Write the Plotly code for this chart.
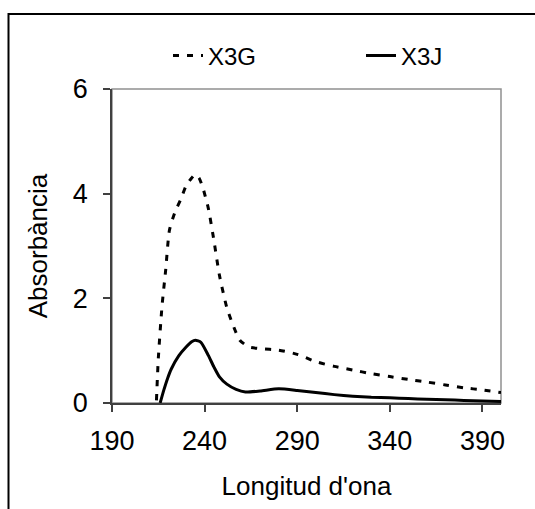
import plotly.graph_objects as go

# ---- data ----
wl_x3g = [214, 215, 217, 219, 221, 224, 227, 230, 233, 235, 237, 239, 242, 245, 248,
          252, 255, 259, 264, 270, 280, 290, 300, 310, 320, 330, 340, 350, 360, 370,
          380, 390, 400]
abs_x3g = [0.05, 0.85, 1.85, 2.55, 3.3, 3.65, 3.88, 4.15, 4.3, 4.37, 4.3, 4.12, 3.72,
           3.11, 2.44, 1.82, 1.52, 1.2, 1.07, 1.04, 1.01, 0.93, 0.79, 0.70, 0.63, 0.56,
           0.505, 0.45, 0.40, 0.345, 0.29, 0.25, 0.20]

wl_x3j = [216, 218, 220, 222, 226, 230, 233, 235, 238, 242, 245, 248, 252, 257, 262,
          270, 280, 290, 300, 310, 320, 330, 340, 350, 360, 370, 380, 390, 400]
abs_x3j = [0.0, 0.25, 0.47, 0.65, 0.90, 1.07, 1.17, 1.20, 1.16, 0.91, 0.69, 0.50, 0.36,
           0.26, 0.21, 0.23, 0.27, 0.24, 0.20, 0.16, 0.13, 0.11, 0.10, 0.085, 0.07, 0.06,
           0.05, 0.04, 0.03]

x_ticks = [190, 240, 290, 340, 390]
y_ticks = [0, 2, 4, 6]
series_names = ["X3G", "X3J"]
x_title = "Longitud d'ona"
y_title = "Absorbància"

# ---- layout geometry ----
W, H = 535, 509
ML, MR, MT, MB = 112, 34, 89, 106
PW, PH = W - ML - MR, H - MT - MB

def px_x(p):
    return (p - ML) / PW

def px_y(p):
    return (H - MB - p) / PH

FONT = "Liberation Sans, Arial, sans-serif"

fig = go.Figure()
fig.add_trace(go.Scatter(
    x=wl_x3g, y=abs_x3g, name=series_names[0], mode="lines",
    line=dict(color="black", width=3, dash="6px,8px", shape="spline", smoothing=0.6),
    legendwidth=148,
))
fig.add_trace(go.Scatter(
    x=wl_x3j, y=abs_x3j, name=series_names[1], mode="lines",
    line=dict(color="black", width=3, shape="spline", smoothing=0.6),
    legendwidth=50,
))

fig.update_layout(
    width=W, height=H,
    margin=dict(l=ML, r=MR, t=MT, b=MB, autoexpand=False),
    paper_bgcolor="white", plot_bgcolor="white",
    font=dict(family=FONT, color="black", size=26),
    showlegend=True,
    legend=dict(
        orientation="h", x=px_x(168), xanchor="left", y=px_y(56), yanchor="middle",
        font=dict(family=FONT, size=24, color="black"),
        entrywidthmode="pixels",
        bgcolor="rgba(0,0,0,0)", itemclick=False,
    ),
    xaxis=dict(
        range=[190, 400], tickvals=x_ticks, ticks="outside", ticklen=7,
        tickcolor="#404040", tickwidth=1.5, automargin=False,
        showline=True, linecolor="#404040", linewidth=1.5, showgrid=False,
        zeroline=False, tickfont=dict(size=27), ticklabelstandoff=6,
        title=dict(text=x_title, font=dict(size=26), standoff=22),
    ),
    yaxis=dict(
        range=[0, 6], tickvals=y_ticks, ticks="outside", ticklen=7,
        tickcolor="#404040", tickwidth=1.5, automargin=False,
        showline=True, linecolor="#404040", linewidth=1.5, showgrid=False,
        zeroline=False, tickfont=dict(size=27), ticklabelstandoff=10,
        title=dict(text=y_title, font=dict(size=26), standoff=18),
    ),
    shapes=[
        # plot-area frame (top/right in gray)
        dict(type="rect", xref="paper", yref="paper", x0=0, x1=1, y0=0, y1=1,
             line=dict(color="#909090", width=1.5), layer="below"),
        # outer chart border
        dict(type="rect", xref="paper", yref="paper",
             x0=px_x(8.5), x1=px_x(545), y0=px_y(520), y1=px_y(14),
             line=dict(color="black", width=2), layer="below"),
    ],
)

fig.write_html("out.html", config={"displayModeBar": False},
               post_script="document.body.style.margin='0px';")
